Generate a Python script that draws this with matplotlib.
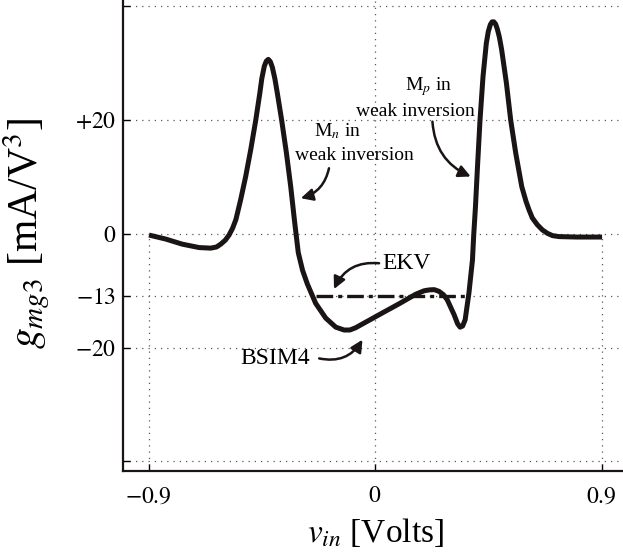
import matplotlib.pyplot as plt

plt.rcParams['font.family'] = ['Liberation Serif', 'DejaVu Serif']
plt.rcParams['mathtext.fontset'] = 'stix'

# gm3 (BSIM4) vs input voltage
vin = [-0.898, -0.832, -0.766, -0.699, -0.653, -0.630, -0.613, -0.595, -0.580,
       -0.566, -0.553, -0.534, -0.514, -0.494, -0.474, -0.458, -0.450, -0.440,
       -0.432, -0.424, -0.416, -0.408, -0.398, -0.388, -0.371, -0.352, -0.335,
       -0.320, -0.305, -0.288, -0.269, -0.236, -0.196, -0.156, -0.123, -0.100,
       -0.077, -0.024, 0.029, 0.095, 0.162, 0.195, 0.215, 0.235, 0.254, 0.272,
       0.287, 0.314, 0.328, 0.338, 0.348, 0.358, 0.373, 0.387, 0.392, 0.399,
       0.407, 0.417, 0.429, 0.442, 0.450, 0.458, 0.465, 0.472, 0.479, 0.486,
       0.494, 0.503, 0.522, 0.539, 0.559, 0.583, 0.600, 0.612, 0.625, 0.645,
       0.665, 0.685, 0.705, 0.731, 0.800, 0.902]
gm3 = [-0.2, -0.9, -1.8, -2.4, -2.5, -2.3, -1.8, -1.1, -0.2,
       1.0, 2.5, 6.0, 10.1, 14.8, 20.0, 24.7, 27.3, 29.5,
       30.4, 30.7, 30.3, 29.3, 27.3, 24.7, 20.0, 14.2, 8.3,
       2.3, -3.3, -6.4, -8.8, -12.2, -14.8, -16.4, -16.9, -16.9,
       -16.5, -15.2, -13.9, -12.3, -10.6, -10.0, -9.85, -9.8, -10.1, -10.7,
       -11.6, -14.2, -15.8, -16.4, -16.2, -15.1, -10.4, -4.6, -0.2, 4.8,
       11.8, 20.0, 27.7, 33.5, 35.6, 36.8, 37.3, 37.3, 36.9, 36.0,
       34.6, 32.4, 26.5, 20.0, 14.2, 8.3, 5.7, 4.2, 2.8, 1.6,
       0.7, 0.1, -0.3, -0.47, -0.55, -0.55]

# EKV prediction (constant)
ekv_x = [-0.236, 0.360]
ekv_level = -10.9

xticks = [-0.9, 0, 0.9]
xtick_labels = [r'$-0.9$', r'$0$', r'$0.9$']
yticks = [-40, -20, -10.9, 0, 20, 40]
ytick_labels = ['', r'$-20$', r'$-13$', r'$0$', r'$+20$', '']

fig = plt.figure(figsize=(6.23, 5.54), dpi=100)
ax = fig.add_axes([0.198, 0.1498, 0.808, 0.859])
ax.set_xlim(-1.0, 1.0)
ax.set_ylim(-41.7, 42)

dots = (0, (1, 4))
ax.grid(axis='y', linestyle=dots, color='0.35', lw=0.9)
ax.axvline(0, linestyle=dots, color='0.35', lw=0.9)
ax.vlines([xticks[0], xticks[-1]], -41.7, [gm3[0], gm3[-1]],
          linestyles=[dots], colors='0.35', lw=0.9)

ax.plot(vin, gm3, color='#1a1414', lw=3.6, solid_capstyle='butt',
        solid_joinstyle='round')
ax.plot(ekv_x, [ekv_level, ekv_level], color='#1a1414', lw=2.4,
        linestyle=(0, (5, 1.5, 1.2, 1.5)))

ax.set_xticks(xticks)
ax.set_xticklabels(xtick_labels)
ax.set_yticks(yticks)
ax.set_yticklabels(ytick_labels)
ax.tick_params(direction='in', length=5, width=1, labelsize=17)
ax.tick_params(axis='x', pad=11)
ax.tick_params(axis='y', pad=5)

for s in ['top', 'right']:
    ax.spines[s].set_visible(False)
for s in ['left', 'bottom']:
    ax.spines[s].set_linewidth(1.6)
    ax.spines[s].set_color('#1a1414')

ax.set_xlabel(r'$v_{in}$ [Volts]', fontsize=24)
ax.xaxis.set_label_coords(0.5, -0.095)
ax.set_ylabel(r'$g_{mg3}$ [mA/V$^3$]', fontsize=30)
ax.yaxis.set_label_coords(-0.142, 0.5)

arrow = dict(arrowstyle='-|>', color='#1a1414', lw=1.8, mutation_scale=18,
             shrinkA=0, shrinkB=0)

ax.text(0.029, -6.2, 'EKV', fontsize=17, ha='left', va='baseline')
ax.annotate('', xy=(-0.163, -9.7), xytext=(0.016, -5.16),
            arrowprops=dict(arrow, connectionstyle='arc3,rad=0.35'))

ax.text(-0.534, -22.9, 'BSIM4', fontsize=17, ha='left', va='baseline')
ax.annotate('', xy=(-0.050, -18.6), xytext=(-0.222, -21.9),
            arrowprops=dict(arrow, connectionstyle='arc3,rad=0.35'))

ax.text(-0.150, 17.2, r'M$_n$ in', fontsize=14, ha='center', va='baseline')
ax.text(-0.083, 13.0, 'weak inversion', fontsize=14, ha='center', va='baseline')
ax.annotate('', xy=(-0.295, 6.28), xytext=(-0.183, 11.55),
            arrowprops=dict(arrow, connectionstyle='arc3,rad=-0.3'))

ax.text(0.211, 25.3, r'M$_p$ in', fontsize=14, ha='center', va='baseline')
ax.text(0.162, 20.8, 'weak inversion', fontsize=14, ha='center', va='baseline')
ax.annotate('', xy=(0.380, 10.1), xytext=(0.228, 19.75),
            arrowprops=dict(arrow, connectionstyle='arc3,rad=0.3'))

fig.savefig('out.png', dpi=100)
